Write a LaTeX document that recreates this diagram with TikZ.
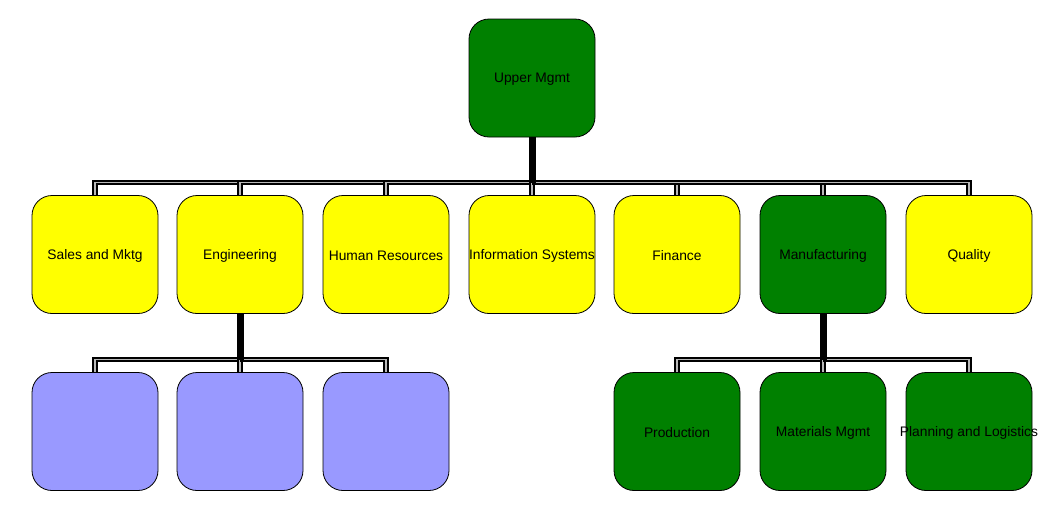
\documentclass[tikz,border=0pt]{standalone}
\usepackage{fontspec}
\setmainfont{Liberation Sans}
\definecolor{dgreen}{HTML}{008000}
\definecolor{yel}{HTML}{FFFF00}
\definecolor{lav}{HTML}{9999FF}
\begin{document}
\begin{tikzpicture}[x=1pt,y=-1pt,
  font=\fontsize{13.8}{16}\selectfont,
  every label/.style={yshift=-1.5pt},
  box/.style={draw=black,line width=0.8pt,rounded corners=20pt,minimum width=126pt,minimum height=118pt,inner sep=0pt},
  gbox/.style={box,fill=dgreen},
  ybox/.style={box,fill=yel},
  lbox/.style={box,fill=lav},
  branch/.style={draw=black,line width=2pt,double=gray!55,double distance=1.8pt},
  trunk/.style={draw=black,line width=7pt}]
\useasboundingbox (0,0) rectangle (1047,515);
% top
\node[gbox,label={center:Upper Mgmt}] (up) at (532,78) {};
% row 2
\node[ybox,label={center:Sales and Mktg}] (sm) at (95,254.5) {};
\node[ybox,label={center:Engineering}] (en) at (240,254.5) {};
\node[ybox,label={center:Human Resources}] (hr) at (386,254.5) {};
\node[ybox,label={center:Information Systems}] (is) at (532,254.5) {};
\node[ybox,label={center:Finance}] (fi) at (677,254.5) {};
\node[gbox,label={center:Manufacturing}] (mf) at (823,254.5) {};
\node[ybox,label={center:Quality}] (qu) at (969,254.5) {};
% row 3
\node[lbox] (e1) at (95,431.5) {};
\node[lbox] (e2) at (240,431.5) {};
\node[lbox] (e3) at (386,431.5) {};
\node[gbox,label={center:Production}] (m1) at (677,431.5) {};
\node[gbox,label={center:Materials Mgmt}] (m2) at (823,431.5) {};
\node[gbox,label={center:Planning and Logistics}] (m3) at (969,431.5) {};
% bus points
\coordinate (b0) at (532,182.5);
\coordinate (b1) at (240,359.5);
\coordinate (b2) at (823,359.5);
% branches
\foreach \c in {sm,en,hr,is,fi,mf,qu} \draw[branch] (b0) -| (\c.north);
\foreach \c in {e1,e2,e3} \draw[branch] (b1) -| (\c.north);
\foreach \c in {m1,m2,m3} \draw[branch] (b2) -| (\c.north);
% trunks
\draw[trunk] (up.south) -- (b0);
\draw[trunk] (en.south) -- (b1);
\draw[trunk] (mf.south) -- (b2);
\end{tikzpicture}
\end{document}
